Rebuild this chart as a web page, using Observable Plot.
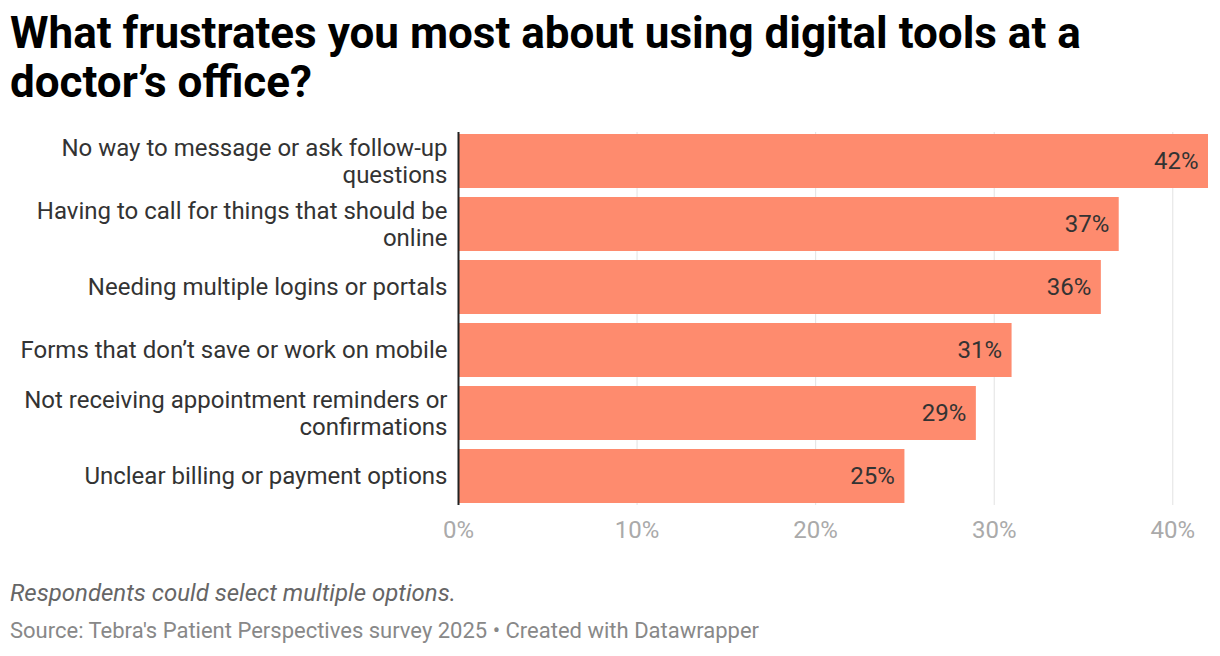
<!DOCTYPE html>
<html>
<head>
<meta charset="utf-8">
<script src="https://cdn.jsdelivr.net/npm/d3@7"></script>
<script src="https://cdn.jsdelivr.net/npm/@observablehq/plot@0.6"></script>
<style>
  html, body { margin: 0; padding: 0; background: #fff; }
  body { width: 1220px; height: 656px; position: relative; overflow: hidden; font-family: Roboto, "Noto Sans", sans-serif; }
  #title { position: absolute; left: 10px; top: 9px; width: 1200px; font-size: 44px; font-weight: 700; line-height: 49px; color: #000; margin: 0; }
  #chart { position: absolute; left: 0; top: 106px; }
  #notes { position: absolute; left: 10px; top: 579px; font-size: 24px; line-height: 28px; font-style: italic; color: #666; }
  #source { position: absolute; left: 10px; top: 618px; font-size: 22px; line-height: 26px; color: #888; }
</style>
</head>
<body>
<div id="title">What frustrates you most about using digital tools at a doctor’s office?</div>
<div id="chart"></div>
<div id="notes">Respondents could select multiple options.</div>
<div id="source">Source: Tebra's Patient Perspectives survey 2025 • Created with Datawrapper</div>
<script>
const categories = [
  "No way to message or ask follow-up\nquestions",
  "Having to call for things that should be\nonline",
  "Needing multiple logins or portals",
  "Forms that don’t save or work on mobile",
  "Not receiving appointment reminders or\nconfirmations",
  "Unclear billing or payment options"
];
const values = [42, 37, 36, 31, 29, 25];
const xTicks = [0, 10, 20, 30, 40];

const data = categories.map((c, i) => ({category: c, value: values[i]}));

const chart = Plot.plot({
  width: 1220,
  height: 450,
  marginTop: 26,
  marginBottom: 51,
  marginLeft: 458,
  marginRight: 12,
  style: {fontFamily: "Roboto, sans-serif", background: "transparent"},
  x: {domain: [0, 42], axis: null},
  y: {domain: categories, axis: null, paddingInner: 0.14, paddingOuter: 0},
  marks: [
    Plot.gridX(xTicks, {stroke: "#e2e2e2", strokeOpacity: 1, strokeWidth: 1}),
    Plot.barX(data, {x: "value", y: "category", fill: "#fe8b6e"}),
    Plot.ruleX([0], {stroke: "#222", strokeWidth: 2}),
    Plot.axisX(xTicks, {tickSize: 0, tickPadding: 15, tickFormat: d => d + "%", fontSize: 24, color: "#aaa", fill: "#aaa", label: null}),
    Plot.text(data, {x: 0, y: "category", text: "category", textAnchor: "end", dx: -11, dy: -1, fontSize: 24, fill: "#333", lineHeight: 1.15}),
    Plot.text(data, {x: "value", y: "category", text: d => d.value + "%", textAnchor: "end", dx: -10, fontSize: 24, fill: "#333"})
  ]
});
document.getElementById("chart").appendChild(chart);
</script>
</body>
</html>
